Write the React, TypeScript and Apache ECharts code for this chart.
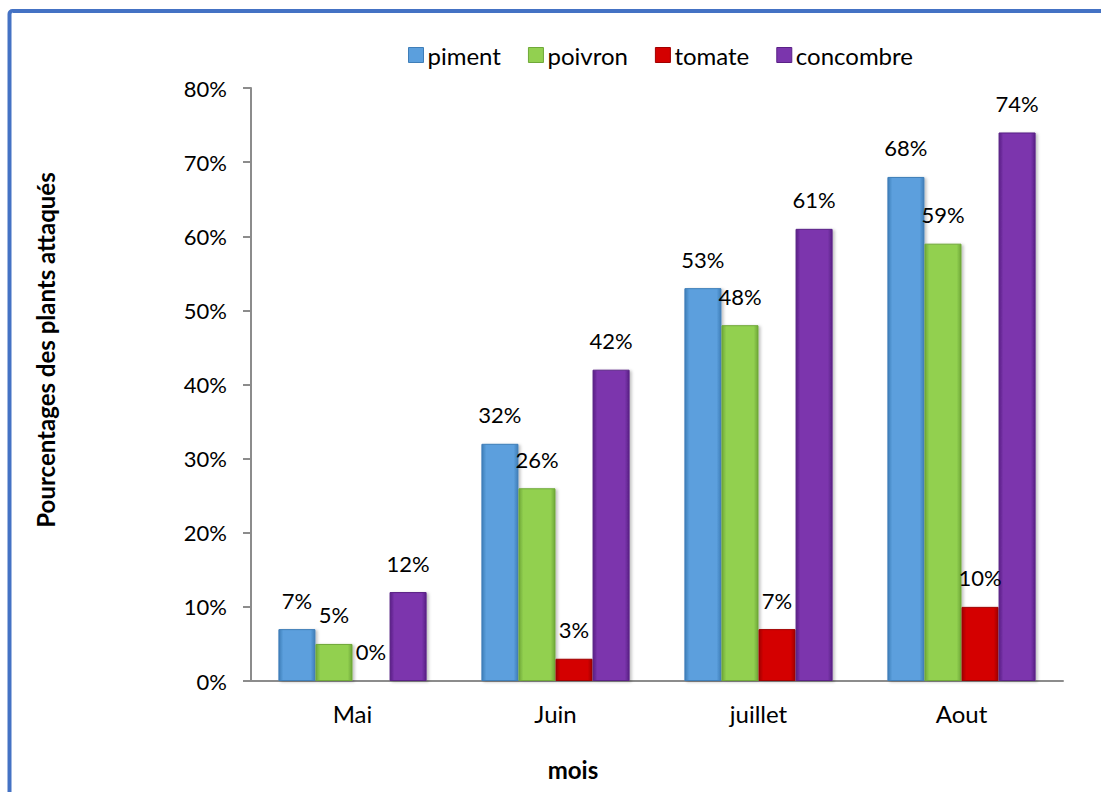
import React, { useEffect, useRef } from "react";
import * as echarts from "echarts";

const months = ["Mai", "Juin", "juillet", "Aout"];
const seriesNames = ["piment", "poivron", "tomate", "concombre"];
const piment = [7, 32, 53, 68];
const poivron = [5, 26, 48, 59];
const tomate = [0, 3, 7, 10];
const concombre = [12, 42, 61, 74];
const seriesValues = [piment, poivron, tomate, concombre];
const yTitle = "Pourcentages des plants attaqués";
const xTitle = "mois";
const colors = [
  { main: "#5B9FDD", light: "#8CC4F0", dark: "#3F7EB8" },
  { main: "#92D050", light: "#B4E67E", dark: "#6FA838" },
  { main: "#D40000", light: "#F04040", dark: "#A00000" },
  { main: "#7B35AD", light: "#9E5CCC", dark: "#5A2186" },
];

const FONT = "Lato, 'Open Sans', sans-serif";

export default function App() {
  const ref = useRef<HTMLDivElement>(null);
  useEffect(() => {
    if (!ref.current) return;
    const chart = echarts.init(ref.current, undefined, { renderer: "svg" });
    const series = seriesNames.map((name, i) => ({
      name,
      type: "bar",
      data: seriesValues[i],
      barGap: "0%",
      barCategoryGap: "27%",
      itemStyle: {
        color: new echarts.graphic.LinearGradient(0, 0, 1, 0, [
          { offset: 0, color: colors[i].dark },
          { offset: 0.12, color: colors[i].main },
          { offset: 0.88, color: colors[i].main },
          { offset: 1, color: colors[i].dark },
        ]),
        borderColor: colors[i].dark,
        borderWidth: 1,
        shadowColor: "rgba(0,0,0,0.25)",
        shadowBlur: 3,
        shadowOffsetX: 2,
        shadowOffsetY: 1,
      },
      label: {
        show: true,
        position: "top",
        distance: 18,
        formatter: "{c}%",
        color: "#000",
        fontSize: 22,
        fontFamily: FONT,
      },
    }));
    chart.setOption({
      animation: false,
      backgroundColor: "#fff",
      textStyle: { fontFamily: FONT },
      legend: {
        data: seriesNames.map((n, i) => ({ name: n, itemStyle: { color: colors[i].main, borderColor: colors[i].dark, borderWidth: 1 } })),
        top: 38,
        left: 403,
        icon: "rect",
        itemWidth: 15,
        itemHeight: 15,
        itemGap: 27,
        textStyle: { fontSize: 24, color: "#000", fontFamily: FONT, padding: [0, 0, 0, -1] },
      },
      grid: { left: 251, top: 88, width: 812, height: 593, containLabel: false },
      xAxis: {
        type: "category",
        data: months,
        axisLine: { show: true, lineStyle: { color: "#8C8C8C", width: 2 } },
        axisTick: { show: false },
        axisLabel: { fontSize: 24, color: "#000", margin: 20, fontFamily: FONT },
      },
      yAxis: {
        type: "value",
        min: 0,
        max: 80,
        interval: 10,
        axisLine: { show: true, lineStyle: { color: "#8C8C8C", width: 2 } },
        axisTick: { show: true, length: 8, lineStyle: { color: "#8C8C8C", width: 2 } },
        splitLine: { show: false },
        axisLabel: { fontSize: 22, color: "#000", margin: 24, formatter: "{value}%", fontFamily: FONT },
      },
      graphic: [
        {
          type: "rect",
          shape: { x: 9.5, y: 11, width: 1200, height: 900, r: 3 },
          style: { fill: "none", stroke: "#4472C4", lineWidth: 4 },
          silent: true,
        },
        {
          type: "text",
          x: 45,
          y: 350,
          rotation: Math.PI / 2,
          style: {
            text: yTitle,
            fontSize: 24,
            fontWeight: "bold",
            fontFamily: FONT,
            fill: "#000",
            align: "center",
            verticalAlign: "middle",
          },
        },
        {
          type: "text",
          x: 573,
          y: 769,
          style: {
            text: xTitle,
            fontSize: 24,
            fontWeight: "bold",
            fontFamily: FONT,
            fill: "#000",
            align: "center",
            verticalAlign: "middle",
          },
        },
      ],
      series,
    });
    return () => chart.dispose();
  }, []);
  return (
    <div
      ref={ref}
      style={{ position: "absolute", left: 0, top: 0, width: 1101, height: 792 }}
    />
  );
}
